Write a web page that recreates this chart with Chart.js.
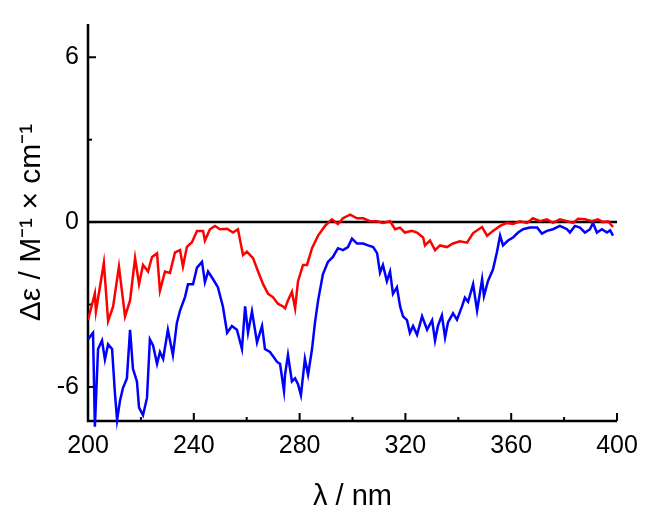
<!DOCTYPE html>
<html>
<head>
<meta charset="utf-8">
<script src="https://cdn.jsdelivr.net/npm/chart.js@4/dist/chart.umd.min.js"></script>
<style>
  html, body { margin: 0; padding: 0; background: #fff; }
  #wrap { width: 649px; height: 517px; }
</style>
</head>
<body>
<div id="wrap"><canvas id="cdChart" width="649" height="517"></canvas></div>
<script>
// wavelength (nm) and delta epsilon values
const redNm = [200, 202.6, 203.0, 206.0, 207.6, 209.5, 211.7, 214.0, 215.9, 217.8, 219.3, 220.8, 222.7, 224.2, 226.1, 227.2, 229.1, 231.0, 232.9, 234.8, 235.9, 237.4, 239.3, 241.2, 243.5, 244.2, 246.1, 248.0, 249.9, 252.6, 254.8, 256.7, 258.6, 260.1, 262.4, 264.3, 266.2, 268.1, 269.9, 271.8, 273.7, 274.5, 275.6, 277.1, 278.3, 279.4, 281.3, 282.8, 284.7, 287.0, 289.6, 292.2, 294.5, 296.4, 299.1, 301.7, 304.0, 306.6, 309.3, 311.5, 314.2, 316.1, 318.0, 319.8, 322.5, 324.4, 326.7, 327.4, 329.3, 331.2, 333.1, 335.7, 338.0, 340.6, 343.3, 345.6, 349.0, 350.9, 353.1, 355.8, 358.4, 360.7, 363.3, 366.0, 368.2, 370.9, 373.5, 375.8, 378.4, 381.1, 383.4, 385.3, 387.9, 390.5, 392.8, 394.7, 396.6, 398.5];
const redDelta = [-3.56, -2.6, -3.25, -1.48, -3.6, -3.07, -1.62, -3.43, -2.85, -1.31, -2.26, -1.56, -1.8, -1.27, -1.14, -2.5, -1.8, -1.85, -1.1, -1.02, -1.62, -0.9, -0.73, -0.32, -0.32, -0.67, -0.26, -0.14, -0.26, -0.24, -0.38, -0.26, -1.2, -1.08, -1.31, -1.8, -2.26, -2.61, -2.73, -2.97, -3.07, -3.14, -2.85, -2.54, -3.14, -2.15, -1.56, -1.56, -0.95, -0.49, -0.14, 0.1, -0.07, 0.14, 0.27, 0.14, 0.14, 0.03, 0.03, -0.03, 0.03, -0.26, -0.2, -0.38, -0.32, -0.38, -0.56, -0.85, -0.67, -1.02, -0.85, -0.91, -0.78, -0.7, -0.75, -0.4, -0.18, -0.5, -0.32, -0.14, -0.03, -0.07, 0.03, -0.03, 0.14, 0.03, 0.1, -0.03, 0.1, 0.03, -0.03, 0.12, 0.1, 0.03, 0.1, 0.0, 0.03, -0.18];

const blueNm = [200, 201.9, 202.6, 203.8, 205.3, 206.4, 207.6, 209.1, 210.2, 211.0, 212.1, 213.2, 214.7, 215.9, 217.0, 218.5, 219.3, 220.8, 222.3, 223.4, 224.6, 226.1, 227.2, 228.4, 230.2, 232.1, 233.6, 234.8, 236.7, 237.8, 239.7, 241.2, 243.1, 244.2, 245.4, 247.3, 249.1, 251.0, 252.6, 254.4, 256.3, 258.2, 259.4, 260.5, 262.0, 263.9, 265.8, 266.9, 268.8, 271.5, 272.6, 274.1, 274.5, 275.6, 277.1, 278.3, 279.4, 280.5, 282.0, 283.2, 284.7, 285.8, 287.0, 288.8, 290.7, 292.6, 294.5, 296.4, 298.3, 299.8, 301.7, 304.0, 305.9, 307.8, 309.3, 310.4, 311.5, 313.0, 314.2, 315.3, 316.8, 318.0, 319.1, 320.6, 321.7, 322.9, 324.4, 326.3, 328.2, 330.1, 331.2, 332.3, 333.8, 335.0, 336.1, 338.0, 339.5, 341.4, 342.5, 343.7, 345.6, 347.1, 349.0, 349.7, 351.2, 353.1, 354.6, 355.8, 356.9, 358.8, 360.7, 362.6, 364.5, 367.1, 369.8, 371.6, 373.5, 375.8, 378.4, 381.1, 382.2, 384.1, 386.0, 387.9, 389.8, 390.9, 392.4, 394.3, 396.2, 397.4, 398.5];
const blueDelta = [-4.27, -4.03, -7.45, -4.62, -4.31, -5.0, -4.45, -4.62, -6.25, -7.2, -6.5, -6.04, -5.69, -3.92, -5.34, -5.8, -6.75, -7.03, -6.4, -4.27, -4.49, -5.16, -4.73, -4.98, -3.92, -4.84, -3.67, -3.22, -2.72, -2.26, -2.26, -1.66, -1.45, -2.19, -1.8, -2.08, -2.37, -3.07, -4.03, -3.78, -3.92, -4.62, -3.07, -4.03, -3.25, -4.38, -3.78, -4.62, -4.73, -5.09, -5.16, -6.15, -5.55, -4.84, -5.8, -5.69, -5.9, -6.3, -4.98, -5.55, -4.62, -3.67, -2.85, -1.9, -1.45, -1.27, -0.95, -1.02, -0.91, -0.6, -0.78, -0.78, -0.85, -0.91, -1.13, -1.84, -1.56, -2.15, -1.8, -2.61, -2.37, -3.07, -3.43, -3.57, -4.03, -3.78, -4.1, -3.43, -3.92, -3.57, -4.31, -3.78, -3.39, -4.2, -3.65, -3.32, -3.55, -3.07, -2.75, -2.9, -2.26, -3.22, -2.08, -2.69, -2.15, -1.73, -1.1, -0.49, -0.85, -0.67, -0.56, -0.38, -0.26, -0.2, -0.2, -0.42, -0.32, -0.26, -0.14, -0.26, -0.38, -0.14, -0.2, -0.38, -0.26, -0.03, -0.38, -0.26, -0.38, -0.3, -0.49];

const xMajorTicks = [200, 240, 280, 320, 360, 400];
const xMinorTicks = [220, 260, 300, 340, 380];
const yMajorTicks = [-6, 0, 6];
const yMinorTicks = [-3, 3];

const FONT = "'Liberation Sans', Arial, sans-serif";

function toPoints(xs, ys) {
  return xs.map((x, i) => ({ x: x, y: ys[i] }));
}

// axis frame, inward ticks and the zero line
const frame = {
  id: "frame",
  beforeDatasetsDraw(chart) {
    const ctx = chart.ctx;
    const xs = chart.scales.x;
    const ys = chart.scales.y;
    const area = chart.chartArea;
    ctx.save();
    ctx.strokeStyle = "#000";
    ctx.lineWidth = 2.5;
    ctx.lineCap = "butt";

    // zero line
    const y0 = ys.getPixelForValue(0);
    ctx.beginPath();
    ctx.moveTo(area.left, y0);
    ctx.lineTo(area.right, y0);
    ctx.stroke();

    // left + bottom axes
    ctx.beginPath();
    ctx.moveTo(area.left, area.top);
    ctx.lineTo(area.left, area.bottom);
    ctx.lineTo(area.right, area.bottom);
    ctx.stroke();

    ctx.lineWidth = 2;
    xMajorTicks.forEach(v => {
      const px = xs.getPixelForValue(v);
      ctx.beginPath(); ctx.moveTo(px, area.bottom); ctx.lineTo(px, area.bottom - 8); ctx.stroke();
    });
    xMinorTicks.forEach(v => {
      const px = xs.getPixelForValue(v);
      ctx.beginPath(); ctx.moveTo(px, area.bottom); ctx.lineTo(px, area.bottom - 4); ctx.stroke();
    });
    yMajorTicks.forEach(v => {
      const py = ys.getPixelForValue(v);
      ctx.beginPath(); ctx.moveTo(area.left, py); ctx.lineTo(area.left + 8, py); ctx.stroke();
    });
    yMinorTicks.forEach(v => {
      const py = ys.getPixelForValue(v);
      ctx.beginPath(); ctx.moveTo(area.left, py); ctx.lineTo(area.left + 4, py); ctx.stroke();
    });
    ctx.restore();
  }
};

new Chart(document.getElementById("cdChart"), {
  type: "line",
  data: {
    datasets: [
      {
        label: "red",
        data: toPoints(redNm, redDelta),
        borderColor: "#ff0000",
        borderWidth: 2.5,
        pointRadius: 0,
        tension: 0,
        fill: false
      },
      {
        label: "blue",
        data: toPoints(blueNm, blueDelta),
        borderColor: "#0000ff",
        borderWidth: 2.5,
        pointRadius: 0,
        tension: 0,
        fill: false,
        clip: { left: 0, top: 0, right: 0, bottom: 10 }
      }
    ]
  },
  options: {
    responsive: false,
    animation: false,
    layout: { padding: { top: 12, right: 32, left: 0, bottom: 0 } },
    plugins: {
      legend: { display: false },
      tooltip: { enabled: false }
    },
    scales: {
      x: {
        type: "linear",
        min: 200,
        max: 400,
        afterFit: s => { s.height = 96; },
        afterBuildTicks: s => { s.ticks = xMajorTicks.map(v => ({ value: v })); },
        grid: { display: false, drawTicks: false },
        border: { display: false },
        ticks: {
          padding: 10,
          color: "#000",
          font: { family: FONT, size: 25 },
          maxRotation: 0
        },
        title: {
          display: true,
          text: "λ / nm",
          color: "#000",
          font: { family: FONT, size: 29 },
          padding: { top: 0, bottom: 3 }
        }
      },
      y: {
        type: "linear",
        min: -7.24,
        max: 7.21,
        afterFit: s => { s.width = 88; },
        afterBuildTicks: s => { s.ticks = yMajorTicks.map(v => ({ value: v })); },
        grid: { display: false, drawTicks: false },
        border: { display: false },
        ticks: {
          padding: 9,
          color: "#000",
          font: { family: FONT, size: 25 }
        },
        title: {
          display: true,
          text: "Δε / M⁻¹ × cm⁻¹",
          color: "#000",
          font: { family: FONT, size: 30 },
          padding: { top: 14, bottom: 0 }
        }
      }
    }
  },
  plugins: [frame]
});
</script>
</body>
</html>
